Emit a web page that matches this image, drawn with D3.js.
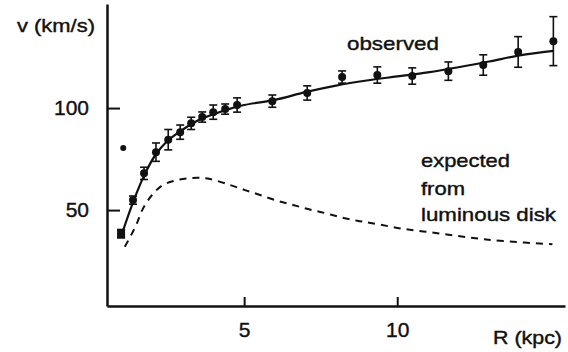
<!DOCTYPE html>
<html>
<head>
<meta charset="utf-8">
<script src="https://cdn.jsdelivr.net/npm/d3@7"></script>
<style>
  body { margin: 0; background: #fff; }
  text { font-family: "Liberation Sans", Arial, sans-serif; fill: #111; stroke: #111; stroke-width: 0.4px; }
</style>
</head>
<body>
<figure id="rotation" style="margin:0"></figure>
<script>
// observed rotation velocities (R in kpc, v in km/s) with error bars
const obsR = [0.98, 1.37, 1.73, 2.12, 2.52, 2.91, 3.27, 3.63, 3.99, 4.38, 4.77,
  5.92, 7.06, 8.2, 9.35, 10.49, 11.67, 12.81, 13.95, 15.1];
const obsV = [38.5, 54.9, 68, 78.4, 84.5, 88.2, 92.5, 95.6, 98, 99.5, 101.5,
  103.4, 107.4, 115.2, 116.2, 115.7, 118.1, 121.1, 127.5, 132.8];
const obsErr = [2, 2, 3, 4.5, 5, 3.5, 3, 2.5, 3.5, 2.5, 3.5,
  3, 3.5, 3, 4, 4, 4.5, 5, 7.5, 12];

// stray point near the start
const strayR = [1.05];
const strayV = [80.4];

// fitted curve through the observed points
const fitR = [1.0, 1.4, 1.75, 2.1, 2.5, 3.0, 3.5, 4.0, 4.5, 5.0, 6.0, 7.0, 8.0,
  9.0, 10.0, 11.0, 12.0, 13.0, 14.0, 15.1];
const fitV = [38, 55, 67.5, 77, 84, 89.5, 94, 97, 99.5, 101.5, 104, 107.8, 111,
  113.5, 115.5, 117.5, 120, 122.8, 125.8, 128];

// expected curve from luminous disk
const expR = [1.1, 1.3, 1.5, 1.67, 1.99, 2.35, 2.81, 3.24, 3.6, 3.89, 4.54, 5.03,
  5.52, 6.08, 6.6, 7.09, 7.65, 8.2, 8.69, 9.18, 10.2, 11.31, 12.39, 13.46, 15.07];
const expV = [32, 37.5, 43.6, 50, 57.4, 62.3, 64.7, 65.7, 65.8, 65.2, 62.3, 59.8,
  57.4, 54.6, 52.5, 50.5, 48.5, 46.3, 44.8, 43.6, 40.8, 38.7, 36.5, 34.8, 33.3];

const yTicks = [50, 100];
const xTicks = [5, 10];

const width = 568, height = 352;

const svg = d3.select("figure#rotation")
  .append("svg")
  .attr("width", width)
  .attr("height", height);

const x = d3.scaleLinear().domain([0.52, 15.48]).range([107, 565]);
const y = d3.scaleLinear().domain([3, 151]).range([306, 4]);

// axes, ticks pointing inward
const yAxis = svg.append("g")
  .attr("transform", "translate(107,0)")
  .call(d3.axisLeft(y).tickValues(yTicks).tickSize(-13).tickSizeOuter(0).tickPadding(18));
const xAxis = svg.append("g")
  .attr("transform", "translate(0,306)")
  .call(d3.axisBottom(x).tickValues(xTicks).tickSize(-9).tickSizeOuter(0).tickPadding(16));

[yAxis, xAxis].forEach(ax => {
  ax.select(".domain").attr("stroke", "#111").attr("stroke-width", 2.5);
  ax.selectAll(".tick line").attr("stroke", "#111").attr("stroke-width", 2);
  ax.selectAll(".tick text")
    .attr("fill", "#111")
    .style("font-family", "Liberation Sans, Arial, sans-serif")
    .style("font-size", "21px");
});

// axis titles
svg.append("text").attr("x", 17).attr("y", 32)
  .attr("textLength", 78).attr("lengthAdjust", "spacingAndGlyphs")
  .style("font-size", "19px").text("v (km/s)");
svg.append("text").attr("x", 493).attr("y", 344)
  .attr("textLength", 69).attr("lengthAdjust", "spacingAndGlyphs")
  .style("font-size", "18px").text("R (kpc)");

// curve labels
const labels = [
  { t: "observed", x: 347, y: 50, w: 92 },
  { t: "expected", x: 421, y: 167, w: 89 },
  { t: "from", x: 421, y: 195, w: 44 },
  { t: "luminous disk", x: 421, y: 221, w: 135 }
];
svg.selectAll(".lbl")
  .data(labels)
  .enter().append("text")
  .attr("class", "lbl")
  .attr("x", d => d.x).attr("y", d => d.y)
  .attr("textLength", d => d.w).attr("lengthAdjust", "spacingAndGlyphs")
  .style("font-size", "19px")
  .text(d => d.t);

const line = d3.line()
  .x(d => x(d[0]))
  .y(d => y(d[1]))
  .curve(d3.curveCatmullRom);

// expected (dashed)
svg.append("path")
  .attr("d", line(d3.zip(expR, expV)))
  .attr("fill", "none")
  .attr("stroke", "#111")
  .attr("stroke-width", 2)
  .attr("stroke-dasharray", "7,6");

// fit (solid)
svg.append("path")
  .attr("d", line(d3.zip(fitR, fitV)))
  .attr("fill", "none")
  .attr("stroke", "#111")
  .attr("stroke-width", 2.2);

// error bars
const obs = obsR.map((r, i) => ({ r: r, v: obsV[i], e: obsErr[i] }));
const eb = svg.append("g").attr("stroke", "#111").attr("stroke-width", 1.6);
eb.selectAll(".ev")
  .data(obs)
  .enter().append("line")
  .attr("x1", d => x(d.r)).attr("x2", d => x(d.r))
  .attr("y1", d => y(d.v + d.e)).attr("y2", d => y(d.v - d.e));
eb.selectAll(".cap-top")
  .data(obs)
  .enter().append("line")
  .attr("x1", d => x(d.r) - 4).attr("x2", d => x(d.r) + 4)
  .attr("y1", d => y(d.v + d.e)).attr("y2", d => y(d.v + d.e));
eb.selectAll(".cap-bot")
  .data(obs)
  .enter().append("line")
  .attr("x1", d => x(d.r) - 4).attr("x2", d => x(d.r) + 4)
  .attr("y1", d => y(d.v - d.e)).attr("y2", d => y(d.v - d.e));

// markers, the innermost one drawn as a square like in the scan
svg.selectAll(".pt")
  .data(obs.slice(1))
  .enter().append("circle")
  .attr("cx", d => x(d.r)).attr("cy", d => y(d.v))
  .attr("r", 4)
  .attr("fill", "#111");
svg.selectAll(".sq")
  .data(obs.slice(0, 1))
  .enter().append("rect")
  .attr("x", d => x(d.r) - 4).attr("y", d => y(d.v) - 4)
  .attr("width", 8).attr("height", 9)
  .attr("fill", "#111");

svg.selectAll(".stray")
  .data(d3.zip(strayR, strayV))
  .enter().append("circle")
  .attr("cx", d => x(d[0])).attr("cy", d => y(d[1]))
  .attr("r", 3)
  .attr("fill", "#111");
</script>
</body>
</html>
